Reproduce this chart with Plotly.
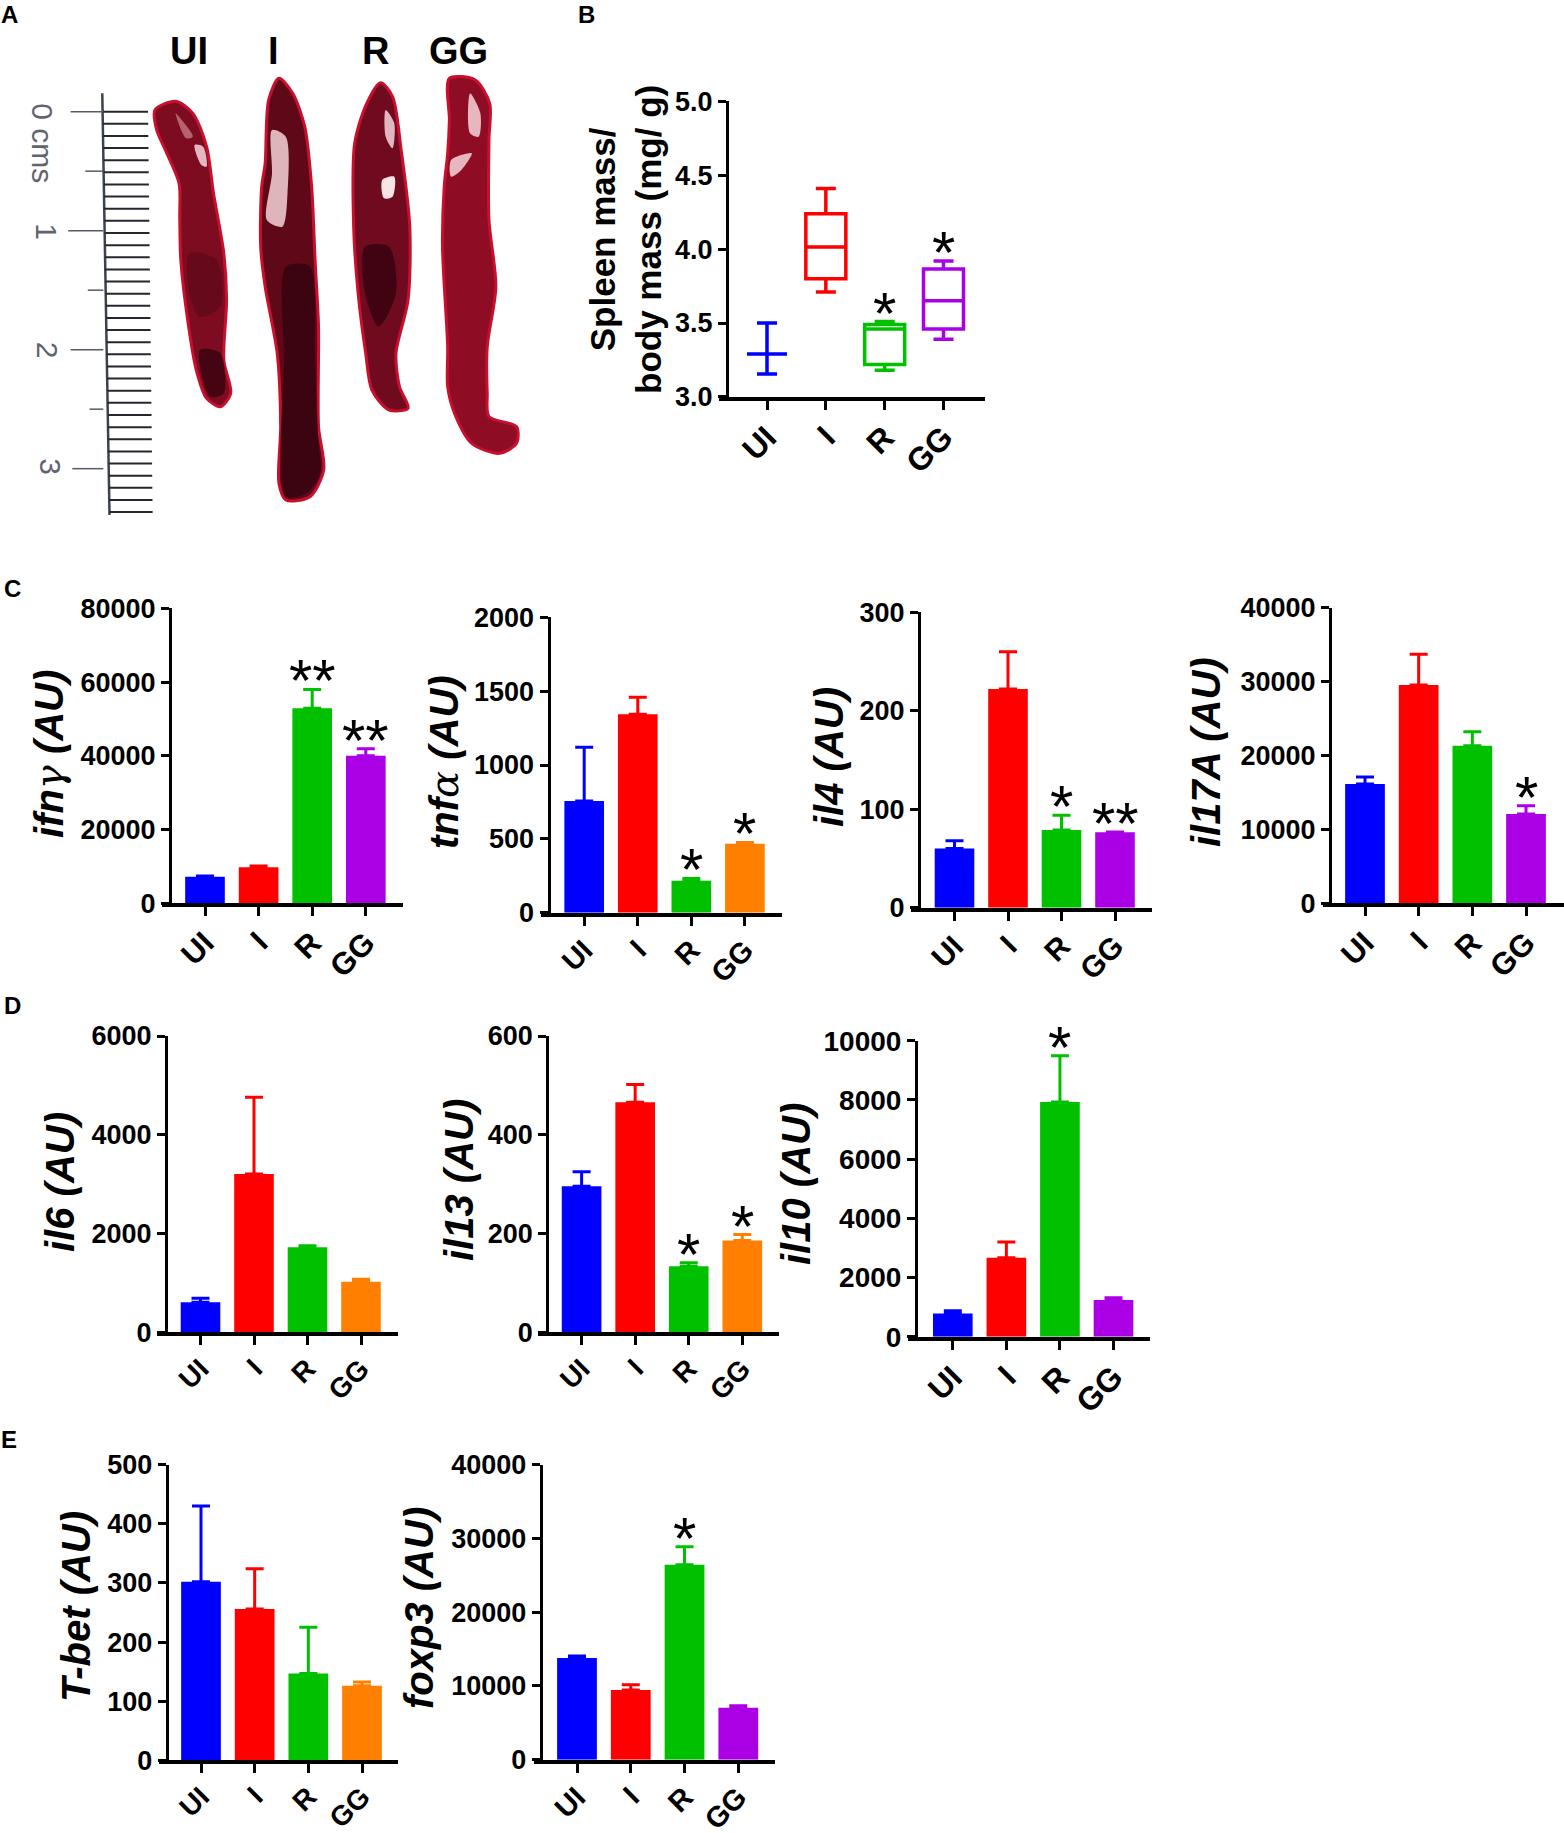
import plotly.graph_objects as go

W, H = 1564, 1833

BLUE, RED, GREEN, PURPLE, ORANGE = "#0000ff", "#ff0000", "#00c000", "#ab00e6", "#ff8000"
CATEGORIES = ["UI", "I", "R", "GG"]
colors_purple = [BLUE, RED, GREEN, PURPLE]
colors_orange = [BLUE, RED, GREEN, ORANGE]

# panel B, spleen mass box plots
box_upper = [3.50, 4.41, 3.51, 3.92]
box_q3 = [3.29, 4.24, 3.49, 3.865]
box_median = [3.29, 4.015, 3.46, 3.65]
box_q1 = [3.29, 3.80, 3.22, 3.46]
box_lower = [3.155, 3.71, 3.18, 3.39]

# bar heights and top of the error bars
ifng_means = [7200, 9750, 52900, 40000]
ifng_upper = [7400, 10100, 58000, 41900]
tnfa_means = [756, 1343, 217, 467]
tnfa_upper = [1120, 1458, 232, 476]
il4_means = [60, 222, 79, 76.5]
il4_upper = [68, 260, 94, 77]
il17a_means = [16140, 29530, 21330, 12090]
il17a_upper = [17090, 33690, 23220, 13210]
il6_means = [607, 3206, 1721, 1026]
il6_upper = [688, 4758, 1755, 1073]
il13_means = [296, 466, 134, 186]
il13_upper = [325, 502, 141, 198]
il10_means = [788, 2669, 7928, 1239]
il10_upper = [878, 3198, 9493, 1318]
tbet_means = [302, 256, 147, 126]
tbet_upper = [430, 324, 225, 132.5]
foxp3_means = [13785, 9446, 26440, 7051]
foxp3_upper = [14057, 10170, 28880, 7322]


def px(x):
    return x / W


def py(y):
    return 1 - y / H


gamma = "<span style=\"font-family:'DejaVu Serif';font-weight:normal\">γ</span>"
alpha = "<span style=\"font-family:'DejaVu Serif';font-weight:normal\">α</span>"

# title, means, upper, ymax, dtick, colours, stars, axis x, top, bottom, x start, x end, centres,
# title x, title y, y tick size, x tick size
panels = [
    (f"ifn{gamma} (AU)", ifng_means, ifng_upper, 80000, 20000, colors_purple, ["", "", "**", "**"],
     170, 608.3, 903.3, 162, 403, [205, 258.7, 312.2, 365.8], 49, 754, 27, 31),
    (f"tnf{alpha} (AU)", tnfa_means, tnfa_upper, 2000, 500, colors_orange, ["", "", "*", "*"],
     548.5, 617.3, 912.7, 540.8, 782, [584.2, 637.8, 691.3, 744.9], 444, 762, 27, 29),
    ("il4 (AU)", il4_means, il4_upper, 300, 100, colors_purple, ["", "", "*", "**"],
     919, 612.3, 907.7, 911, 1151.5, [954.5, 1008, 1061.5, 1115], 829, 757, 27, 30),
    ("il17A (AU)", il17a_means, il17a_upper, 40000, 10000, colors_purple, ["", "", "", "*"],
     1330, 607.7, 903.3, 1322.5, 1564, [1365, 1419, 1472.5, 1526], 1206, 752, 27, 31),
    ("il6 (AU)", il6_means, il6_upper, 6000, 2000, colors_orange, ["", "", "", ""],
     166, 1036, 1332.3, 157, 398, [200.5, 254, 307.7, 361], 60, 1182, 27, 28),
    ("il13 (AU)", il13_means, il13_upper, 600, 200, colors_orange, ["", "", "*", "*"],
     547.2, 1036, 1332.3, 538, 779, [581.6, 635.2, 688.8, 742.3], 459, 1180, 27, 28),
    ("il10 (AU)", il10_means, il10_upper, 10000, 2000, colors_purple, ["", "", "*", ""],
     916, 1040.7, 1336.7, 908.4, 1150, [952.8, 1006.4, 1060, 1113.5], 796, 1184, 28, 32),
    ("T-bet (AU)", tbet_means, tbet_upper, 500, 100, colors_orange, ["", "", "", ""],
     166.8, 1464.7, 1760.3, 159, 398, [201, 254.6, 308, 362], 76, 1607, 27, 28),
    ("foxp3 (AU)", foxp3_means, foxp3_upper, 40000, 10000, colors_purple, ["", "", "*", ""],
     540.8, 1464.7, 1759.7, 533.7, 774.5, [577, 630.6, 684.2, 738.3], 419, 1608, 27, 29),
]

fig = go.Figure()
layout = dict(
    width=W, height=H, margin=dict(l=0, r=0, t=0, b=0, pad=0, autoexpand=False), showlegend=False,
    paper_bgcolor="white", plot_bgcolor="rgba(0,0,0,0)", barmode="overlay",
    font=dict(family="Liberation Sans", color="black"),
)
annotations = []
shapes = []


def axes(n, ymax, dtick, axis_x, top, bottom, x0, x1, centres, ysize, xsize):
    step = (centres[3] - centres[0]) / 3
    layout[f"xaxis{n}"] = dict(
        domain=[px(x0), px(x1)], anchor=f"y{n}", type="category", categoryorder="array",
        categoryarray=CATEGORIES, range=[(x0 - centres[0]) / step, 3 + (x1 - centres[3]) / step],
        showgrid=False, showline=True, linecolor="black", linewidth=4, ticks="outside", ticklen=9,
        tickwidth=3, tickcolor="black", tickangle=-45, zeroline=False, ticklabelstandoff=-4,
        tickfont=dict(size=xsize, family="Liberation Sans", weight="bold"),
    )
    layout[f"yaxis{n}"] = dict(
        domain=[py(bottom), py(top)], anchor="free", position=px(axis_x), range=[0, ymax],
        dtick=dtick, tick0=0, showgrid=False, zeroline=False, showline=True, linecolor="black", linewidth=3,
        ticks="outside", ticklen=8, tickwidth=3, tickcolor="black", tickformat="d",
        tickfont=dict(size=ysize, family="Liberation Sans", weight="bold"),
    )


def star(text, x, y, n):
    annotations.append(dict(
        x=x, y=y, xref=f"x{n}", yref=f"y{n}", text=text, showarrow=False, yanchor="bottom",
        yshift=-27, font=dict(size=60, family="Liberation Sans"),
    ))


for n, p in enumerate(panels, start=2):
    title, means, upper, ymax, dtick, colors, stars, ax, top, bottom, x0, x1, centres, tx, ty, ysize, xsize = p
    axes(n, ymax, dtick, ax, top, bottom, x0, x1, centres, ysize, xsize)
    for cat, m, u, c, s in zip(CATEGORIES, means, upper, colors, stars):
        fig.add_trace(go.Bar(
            x=[cat], y=[m], width=0.74, marker=dict(color=c, line_width=0),
            error_y=dict(type="data", symmetric=False, array=[u - m], arrayminus=[0],
                         color=c, thickness=3, width=9),
            xaxis=f"x{n}", yaxis=f"y{n}",
        ))
        if s:
            star(s, cat, u, n)
    annotations.append(dict(
        x=px(tx), y=py(ty), xref="paper", yref="paper", text=f"<b><i>{title}</i></b>", textangle=-90,
        showarrow=False, xanchor="center", yanchor="middle", font=dict(size=40),
    ))

# panel B
axes(11, 5, 0.5, 727, 101.4, 396.9, 719, 985, [767, 826, 885, 943.5], 27, 32)
layout["yaxis11"]["range"] = [3, 5]
layout["yaxis11"]["tick0"] = 3
layout["yaxis11"]["tickformat"] = ".1f"
for i, cat in enumerate(CATEGORIES):
    fig.add_trace(go.Box(
        x=[cat], q1=[box_q1[i]], median=[box_median[i]], q3=[box_q3[i]],
        lowerfence=[box_lower[i]], upperfence=[box_upper[i]], width=0.68, whiskerwidth=0.5,
        line=dict(color=colors_purple[i], width=3.5), fillcolor="rgba(0,0,0,0)",
        xaxis="x11", yaxis="y11", boxpoints=False,
    ))
for i in (2, 3):
    star("*", CATEGORIES[i], box_upper[i], 11)
annotations.append(dict(
    x=px(625), y=py(240), xref="paper", yref="paper", text="<b>Spleen mass/<br>body mass (mg/ g)</b>",
    textangle=-90, showarrow=False, xanchor="center", yanchor="middle", font=dict(size=35),
))

# panel letters and the labels above the photo
for letter, lx, ly in [("A", 9, 14), ("B", 586, 14), ("C", 12, 588), ("D", 12, 1005), ("E", 9, 1439)]:
    annotations.append(dict(x=px(lx), y=py(ly), xref="paper", yref="paper", text=f"<b>{letter}</b>",
                            showarrow=False, xanchor="center", yanchor="middle", font=dict(size=24)))
for label, lx in zip(CATEGORIES, [189, 273, 375, 458]):
    annotations.append(dict(x=px(lx), y=py(51), xref="paper", yref="paper", text=f"<b>{label}</b>",
                            showarrow=False, xanchor="center", yanchor="middle", font=dict(size=38)))

# panel A is a photo in the paper, drawn here as a sketch of the ruler and the four spleens
layout["xaxis20"] = dict(domain=[0, 1], range=[0, W], visible=False, anchor="y20")
layout["yaxis20"] = dict(domain=[0, 1], range=[H, 0], visible=False, anchor="x20")


def zx(x):
    return x / 2.904


def zy(y):
    return 60 + y / 3


def blob(points, fill, line=None, lw=0):
    xs = [zx(a) for a, b in points] + [zx(points[0][0])]
    ys = [zy(b) for a, b in points] + [zy(points[0][1])]
    fig.add_trace(go.Scatter(
        x=xs, y=ys, mode="lines", fill="toself", fillcolor=fill,
        line=dict(color=line or fill, width=lw, shape="spline", smoothing=0.8),
        xaxis="x20", yaxis="y20", hoverinfo="skip",
    ))


spleen_ui = [(450, 150), (510, 124), (560, 160), (600, 260), (620, 400), (650, 580), (658, 720), (650, 900),
             (670, 1000), (640, 1040), (600, 1015), (570, 930), (545, 780), (525, 600), (522, 470), (520, 370),
             (480, 270), (455, 210)]
spleen_i = [(810, 55), (850, 100), (885, 200), (905, 380), (915, 600), (925, 800), (925, 1100), (940, 1230),
            (900, 1310), (830, 1320), (810, 1270), (815, 1100), (805, 880), (770, 680), (757, 560), (760, 380),
            (770, 310), (780, 120)]
spleen_r = [(1105, 68), (1140, 110), (1165, 270), (1190, 500), (1185, 720), (1150, 880), (1160, 980), (1185, 1045),
            (1130, 1050), (1080, 990), (1062, 880), (1040, 700), (1027, 500), (1030, 250), (1065, 130)]
spleen_gg = [(1305, 55), (1380, 60), (1422, 130), (1420, 240), (1420, 480), (1440, 680), (1415, 860), (1415, 1000),
             (1420, 1070), (1500, 1100), (1500, 1150), (1450, 1180), (1370, 1150), (1320, 1060), (1300, 980),
             (1300, 860), (1285, 560), (1290, 380), (1300, 280), (1305, 180)]
for outline, body in zip((spleen_ui, spleen_i, spleen_r, spleen_gg), ("#7d0c20", "#5e0818", "#6f0a1f", "#8e0c24")):
    blob(outline, body, "#c8102e", 3)

# darker and shiny patches on the spleens
dark = "rgba(50,2,14,0.75)"
shine = "rgba(255,225,230,0.8)"
blob([(830, 620), (900, 620), (915, 900), (925, 1150), (930, 1240), (890, 1300), (830, 1310), (815, 1200), (825, 900)], dark)
blob([(1060, 560), (1130, 560), (1150, 700), (1100, 800), (1060, 700)], dark)
blob([(550, 580), (630, 600), (640, 740), (580, 770), (550, 700)], "rgba(80,5,20,0.5)")
blob([(580, 870), (640, 880), (650, 1000), (610, 1010)], dark)
blob([(790, 210), (830, 230), (835, 400), (820, 500), (775, 480), (790, 340)], shine)
blob([(1110, 360), (1145, 350), (1140, 410), (1115, 415)], "rgba(255,240,240,0.95)")
blob([(1120, 150), (1145, 190), (1140, 265), (1120, 230)], shine)
blob([(1365, 100), (1395, 160), (1390, 230), (1365, 220)], shine)
blob([(1310, 300), (1370, 280), (1340, 330), (1310, 350)], shine)
blob([(510, 160), (560, 230), (540, 235)], "rgba(255,200,210,0.45)")
blob([(565, 255), (590, 260), (600, 320), (585, 315)], shine)

# ruler
ruler_color = "#26262e"
shapes.append(dict(type="line", xref="x20", yref="y20", x0=zx(297), y0=zy(100), x1=zx(318), y1=zy(1365),
                   line=dict(color="#3d4250", width=2.5)))
for k in range(34):
    yy = 155 + k * 36.4
    spine = 297 + 21 * (yy - 100) / 1265
    shapes.append(dict(type="line", xref="x20", yref="y20", x0=zx(spine), y0=zy(yy), x1=zx(430 + k * 0.4), y1=zy(yy),
                       line=dict(color=ruler_color, width=2)))
for k, left in enumerate([205, 248, 198, 255, 205, 260, 210]):
    yy = 155 + k * 178.5
    shapes.append(dict(type="line", xref="x20", yref="y20", x0=zx(left), y0=zy(yy), x1=zx(300), y1=zy(yy),
                       line=dict(color="#555a66", width=1.5)))
for text, zxx, zyy in [("0 cms", 125, 250), ("1", 135, 515), ("2", 140, 870), ("3", 148, 1222)]:
    annotations.append(dict(x=px(zx(zxx)), y=py(zy(zyy)), xref="paper", yref="paper", text=text, textangle=90,
                            showarrow=False, xanchor="center", yanchor="middle", font=dict(size=30, color="#5f6470")))

layout["annotations"] = annotations
layout["shapes"] = shapes
fig.update_layout(**layout)
fig.write_html("out.html", post_script="document.body.style.margin='0';", config=dict(displayModeBar=False))
